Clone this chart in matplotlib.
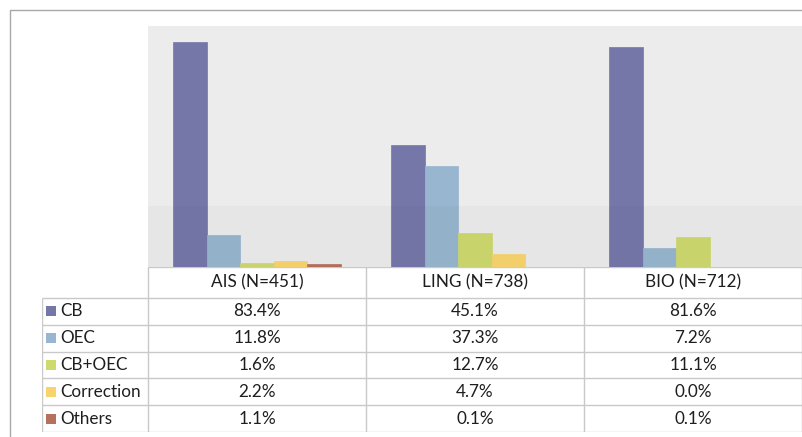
import matplotlib.pyplot as plt
import numpy as np
from matplotlib.patches import Rectangle

categories = ["AIS (N=451)", "LING (N=738)", "BIO (N=712)"]
series = ["CB", "OEC", "CB+OEC", "Correction", "Others"]
cb = [83.4, 45.1, 81.6]
oec = [11.8, 37.3, 7.2]
cb_oec = [1.6, 12.7, 11.1]
correction = [2.2, 4.7, 0.0]
others = [1.1, 0.1, 0.1]
values = [cb, oec, cb_oec, correction, others]
colors = ["#7477a8", "#98b6cf", "#cdda6e", "#f9d46e", "#b5715e"]

W, H = 802, 437
fig = plt.figure(figsize=(W / 100, H / 100), dpi=100)
plt.rcParams["font.family"] = ["Lato", "DejaVu Sans"]
text_color = "#1e1e1e"
grid_color = "#c9c9c9"

# outer frame (only top/left visible in the original)
fig.patches.append(Rectangle((10 / W, -0.1), 1.2, (H - 10) / H + 0.1, transform=fig.transFigure,
                             fill=False, edgecolor="#a8a8a8", linewidth=1.0))

# bar area
ax = fig.add_axes([148 / W, (H - 267) / H, 654 / W, 241 / H])
ax.set_facecolor("#ececec")
x = np.arange(len(categories))
bar_w = 0.154
for i, (name, vals) in enumerate(zip(series, values)):
    ax.bar(x + (i - 2) * bar_w, vals, width=bar_w, color=colors[i], edgecolor=colors[i],
           linewidth=0.5, zorder=2, label=name)
ax.axhspan(0, 22.6, color="black", alpha=0.025, zorder=3, linewidth=0)
ax.set_xlim(-0.5, 2.5)
ax.set_ylim(0, 89.3)
ax.set_xticks([])
ax.set_yticks([])
for s in ax.spines.values():
    s.set_visible(False)

# data table under the bars
tab_left, tab_right = 42, 802
tab_top, tab_bottom = 267, 432
tax = fig.add_axes([tab_left / W, (H - tab_bottom) / H, (tab_right - tab_left) / W, (tab_bottom - tab_top) / H])
label_w = (148 - tab_left) / 218.0
x0 = -0.5 - label_w
head_h = 31 / 26.8
n = len(series)
tax.set_xlim(x0, 2.5)
tax.set_ylim(0, n + head_h)
tax.axis("off")

# horizontal lines
tax.hlines(n + head_h, -0.5, 2.5, color=grid_color, linewidth=1.0)
tax.hlines(np.arange(n + 1), x0, 2.5, color=grid_color, linewidth=1.0)
# vertical lines
tax.vlines(x0, 0, n, color=grid_color, linewidth=1.0)
tax.vlines(np.arange(len(categories) + 1) - 0.5, 0, n + head_h, color=grid_color, linewidth=1.0)

fs = 12.3
for j, cat in enumerate(categories):
    tax.text(j, n + head_h / 2, cat, ha="center", va="center", fontsize=fs, color=text_color)

for i, (name, vals) in enumerate(zip(series, values)):
    yc = n - i - 0.5
    tax.scatter([x0 + 0.04], [yc], marker="s", s=48, color=colors[i], linewidths=0, clip_on=False)
    tax.text(x0 + 0.083, yc, name, ha="left", va="center", fontsize=fs, color=text_color)
    for j, v in enumerate(vals):
        tax.text(j, yc, f"{v:.1f}%", ha="center", va="center", fontsize=fs, color=text_color)

fig.savefig("out.png", dpi=100)
